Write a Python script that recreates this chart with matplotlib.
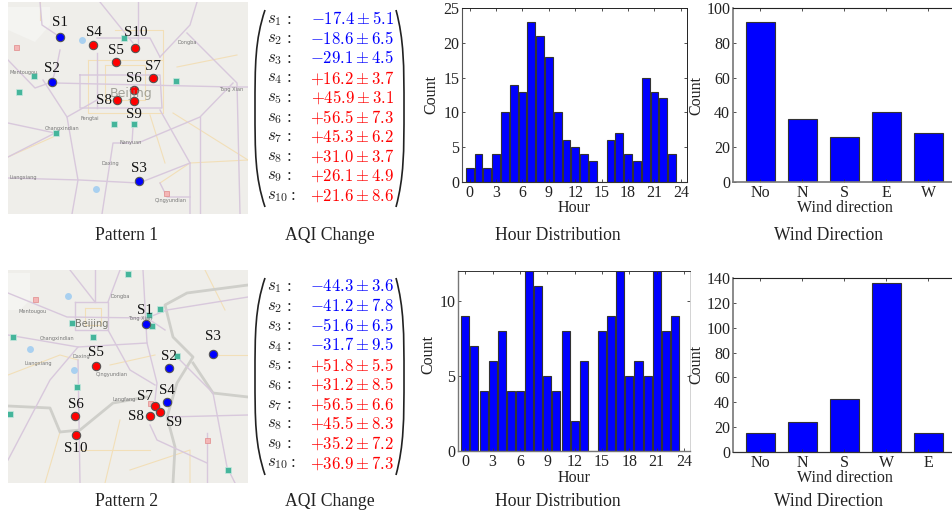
import matplotlib
matplotlib.use("Agg")
import matplotlib.pyplot as plt
from matplotlib.path import Path
from matplotlib.patches import PathPatch, Polygon

plt.rcParams["font.family"] = "Liberation Serif"
plt.rcParams["mathtext.fontset"] = "cm"

W, H = 952, 514

station_names = ["S1", "S2", "S3", "S4", "S5", "S6", "S7", "S8", "S9", "S10"]

# pattern 1
p1_colors = ["b", "b", "b", "r", "r", "r", "r", "r", "r", "r"]
p1_x = [60, 52, 139, 93, 116, 134, 153, 117, 134, 135]
p1_y = [37, 82, 181, 45, 62, 90, 78, 100, 101, 48]
p1_label_x = [60, 52, 139, 94, 116, 134, 153, 104, 134, 136]
p1_label_y = [23, 69, 168, 32, 51, 79, 67, 100, 114, 33]
p1_mean = [-17.4, -18.6, -29.1, 16.2, 45.9, 56.5, 45.3, 31.0, 26.1, 21.6]
p1_err = [5.1, 6.5, 4.5, 3.7, 3.1, 7.3, 6.2, 3.7, 4.9, 8.6]
p1_hours = [2, 4, 2, 4, 10, 14, 13, 23, 21, 18, 10, 6, 5, 4, 3, 0, 6, 7, 4, 3, 15, 13, 12, 4]
p1_wind_labels = ["No", "N", "S", "E", "W"]
p1_wind = [92, 36, 26, 40, 28]

# pattern 2
p2_colors = ["b", "b", "b", "b", "r", "r", "r", "r", "r", "r"]
p2_x = [146, 169, 213, 167, 96, 75, 155, 150, 160, 76]
p2_y = [324, 368, 354, 402, 366, 416, 406, 416, 412, 435]
p2_label_x = [145, 169, 213, 167, 96, 76, 145, 136, 174, 76]
p2_label_y = [311, 356, 337, 390, 352, 404, 396, 416, 422, 448]
p2_mean = [-44.3, -41.2, -51.6, -31.7, 51.8, 31.2, 56.5, 45.5, 35.2, 36.9]
p2_err = [3.6, 7.8, 6.5, 9.5, 5.5, 8.5, 6.6, 8.3, 7.2, 7.3]
p2_hours = [9, 7, 4, 6, 8, 4, 4, 12, 11, 5, 4, 8, 2, 6, 0, 8, 9, 12, 5, 6, 5, 12, 8, 9]
p2_wind_labels = ["No", "N", "S", "W", "E"]
p2_wind = [15, 24, 43, 136, 15]

# map background details, in image pixels
p1_purple = [
    [(55, 83), (233, 87), (248, 87)], [(80, 75), (160, 75), (162, 108), (80, 108), (80, 75)],
    [(100, 2), (133, 43)], [(138, 2), (138, 43)], [(160, 57), (190, 25), (197, 2)],
    [(187, 33), (237, 83), (240, 214)], [(133, 127), (132, 143), (113, 143), (102, 214)],
    [(8, 123), (55, 133), (8, 157)], [(8, 178), (80, 180), (139, 183), (190, 163)],
    [(67, 117), (78, 180), (72, 214)], [(43, 80), (67, 117), (97, 100)],
    [(160, 110), (190, 163), (190, 214)], [(138, 143), (200, 117), (233, 83)],
    [(160, 183), (167, 197), (190, 197)], [(60, 50), (57, 65), (52, 82)],
    [(97, 38), (150, 38), (160, 57)], [(97, 53), (97, 108)], [(8, 60), (35, 88), (52, 82)],
    [(40, 2), (42, 25), (60, 37)], [(200, 117), (200, 214)],
]
p1_orange = [
    [(88, 60), (163, 60), (163, 113), (88, 113), (88, 60)], [(173, 113), (248, 160)],
    [(177, 67), (237, 55)], [(8, 157), (53, 137)], [(190, 163), (248, 160)],
    [(105, 65), (145, 65), (145, 100), (105, 100), (105, 65)], [(115, 30), (163, 30), (163, 60)],
    [(160, 183), (190, 163)], [(40, 2), (40, 20)], [(150, 115), (165, 163)],
]
p1_green = [(34, 76), (19, 92), (56, 133), (114, 124), (134, 124), (176, 81), (124, 38)]
p1_pink = [(16, 47), (166, 193)]
p1_lakes = [(82, 40), (96, 189)]
p1_place = [("Tong Xian", 231, 89), ("Changxindian", 62, 128), ("Liangxiang", 23, 177),
            ("Daxing", 110, 163), ("Nanyuan", 131, 142), ("Qingyundian", 171, 200),
            ("Dongba", 187, 42), ("Mentougou", 24, 72), ("Fengtai", 90, 118)]
p1_hills = [(8, 7), (50, 7), (50, 25), (35, 42), (8, 30)]

p2_grey = [
    [(248, 285), (187, 293), (165, 305), (173, 337), (193, 357), (177, 383), (167, 417), (175, 447), (173, 483)],
    [(193, 363), (213, 393), (248, 397)],
    [(8, 406), (50, 408), (60, 432), (80, 430), (113, 403), (147, 397)],
]
p2_purple = [
    [(8, 293), (67, 317), (147, 318), (167, 310), (248, 297)], [(8, 335), (78, 347), (147, 343)],
    [(75, 302), (108, 302), (108, 330), (75, 330), (75, 302)], [(95, 270), (95, 302)],
    [(143, 270), (147, 343), (157, 383), (155, 400)], [(78, 360), (80, 483)],
    [(207, 433), (207, 483)], [(167, 417), (248, 415)],
    [(180, 360), (213, 393), (227, 467), (235, 483)], [(150, 425), (157, 440), (207, 463)],
    [(70, 270), (95, 302)], [(120, 270), (108, 302)], [(8, 460), (50, 380), (78, 347)],
    [(108, 330), (130, 370), (155, 385)], [(165, 330), (150, 320)],
]
p2_orange = [
    [(85, 308), (101, 308), (101, 325), (85, 325), (85, 308)], [(8, 375), (60, 355), (78, 360)],
    [(130, 470), (190, 450), (190, 483)], [(120, 420), (105, 483)],
    [(213, 355), (248, 355)], [(60, 432), (45, 483)], [(205, 270), (225, 310)],
    [(110, 365), (155, 355)], [(80, 450), (150, 450)],
]
p2_green = [(128, 274), (160, 309), (149, 315), (152, 326), (72, 323), (93, 337), (13, 337),
            (177, 356), (77, 387), (10, 414), (228, 470)]
p2_pink = [(35, 299), (150, 403), (207, 440)]
p2_lakes = [(68, 296), (30, 349), (74, 370)]
p2_place = [("Mentougou", 33, 312), ("Changxindian", 57, 339), ("Daxing", 81, 357),
            ("Liangxiang", 38, 364), ("Qingyundian", 112, 375), ("Dongba", 120, 297),
            ("Tong Xian", 140, 319), ("Langfang", 124, 400)]
p2_hills = [(8, 273), (30, 273), (30, 300), (20, 310), (8, 310)]


def px_rect(left, top, right, bottom):
    return [left / W, 1 - bottom / H, (right - left) / W, (bottom - top) / H]


def plot_map(fig, rect, hills, purple, orange, green, pink, lakes, places, xs, ys, colors, grey=()):
    left, top, right, bottom = rect
    ax = fig.add_axes(px_rect(left, top, right, bottom))
    ax.set_xlim(left, right)
    ax.set_ylim(bottom, top)
    ax.axis("off")
    ax.add_patch(plt.Rectangle((left, top), right - left, bottom - top, fc="#efeeea", ec="none", zorder=0))
    ax.add_patch(Polygon(hills, fc="#f4f4f1", ec="none", zorder=1))
    for line in orange:
        ax.plot(*zip(*line), color="#f2dfb8", lw=0.8, zorder=2)
    for line in grey:
        ax.plot(*zip(*line), color="#cfcfca", lw=2.0, zorder=2)
    for line in purple:
        ax.plot(*zip(*line), color="#d8c8dc", lw=1.0, zorder=3)
    ax.plot(*zip(*lakes), ls="none", marker="o", ms=5, color="#a9d0f0", mec="none", zorder=3)
    ax.plot(*zip(*green), ls="none", marker="s", ms=4.2, color="#45b59b", mec="#c8e8df", mew=0.5, zorder=4)
    ax.plot(*zip(*pink), ls="none", marker="s", ms=3.6, color="#f4b6b6", mec="#e08a8a", mew=0.5, zorder=4)
    for name, x, y in places:
        ax.text(x, y, name, fontsize=3.6, family="DejaVu Sans", color="#777777", ha="center", va="center", zorder=4)
    for i in range(len(xs)):
        ax.plot(xs[i], ys[i], marker="o", ms=6, mfc={"b": "#0000ff", "r": "#ff0000"}[colors[i]],
                mec="#555555", mew=0.8, zorder=6)
    return ax


def plot_matrix(ov, top, bottom, first_y, means, errs):
    step = 19.6
    for i in range(len(means)):
        y = first_y + i * step
        color = "#0000ff" if means[i] < 0 else "#ff0000"
        ov.text(267, y, "$s_{%d}$" % (i + 1), fontsize=12.2, color="#222222", ha="left", va="center")
        ov.text(293 if i == 9 else 289, y, ":", fontsize=12, color="#222222", ha="center", va="center")
        ov.text(394, y, "$%+.1f \\pm %.1f$" % (means[i], errs[i]), fontsize=12, color=color,
                ha="right", va="center")
    # big brackets
    for x0, x1 in [(265, 255), (396, 404)]:
        verts = [(x0, top), (x1, top + 30), (x1, top + 55), (x1, (top + bottom) / 2),
                 (x1, bottom - 55), (x1, bottom - 30), (x0, bottom)]
        codes = [Path.MOVETO, Path.CURVE4, Path.CURVE4, Path.CURVE4, Path.CURVE4, Path.CURVE4, Path.CURVE4]
        ov.add_patch(PathPatch(Path(verts, codes), fc="none", ec="#222222", lw=1.2))


def style_axes(ax, sides, right_ticks=True):
    for side, (color, lw) in sides.items():
        ax.spines[side].set_color(color)
        ax.spines[side].set_linewidth(lw)
    ax.tick_params(direction="in", length=2, width=0.6, top=True, right=right_ticks, labelsize=11.5,
                   pad=2, color="#333333", labelcolor="#222222")


def plot_hours(fig, rect, counts, xlim, ylim, yticks, count_x, count_y, hour_y):
    ax = fig.add_axes(px_rect(*rect))
    ax.bar(range(24), counts, width=0.88, color="#0000ff", edgecolor="#333333", linewidth=0.8)
    ax.set_xlim(*xlim)
    ax.set_ylim(*ylim)
    ax.set_xticks(range(0, 25, 3))
    ax.set_yticks(yticks)
    ax.set_xlabel("Hour", fontsize=11.5, color="#222222")
    ax.set_ylabel("Count", fontsize=11.5, color="#222222")
    ax.xaxis.set_label_coords(0.5, (rect[3] - hour_y) / (rect[3] - rect[1]))
    ax.yaxis.set_label_coords((count_x - rect[0]) / (rect[2] - rect[0]), (rect[3] - count_y) / (rect[3] - rect[1]))
    return ax


def plot_wind(fig, rect, labels, counts, ylim, yticks, count_y, label_y):
    ax = fig.add_axes(px_rect(*rect))
    ax.bar(range(5), counts, width=0.68, color="#0000ff", edgecolor="#333333", linewidth=0.8)
    ax.set_xlim(-0.65, 4.56)
    ax.set_ylim(*ylim)
    ax.set_xticks(range(5))
    ax.set_xticklabels(labels)
    ax.set_yticks(yticks)
    ax.set_xlabel("Wind direction", fontsize=11.5, color="#222222")
    ax.set_ylabel("Count", fontsize=11.5, color="#222222")
    ax.xaxis.set_label_coords(0.51, (rect[3] - label_y) / (rect[3] - rect[1]))
    ax.yaxis.set_label_coords((704 - rect[0]) / (rect[2] - rect[0]), (rect[3] - count_y) / (rect[3] - rect[1]))
    return ax


fig = plt.figure(figsize=(W / 100, H / 100), dpi=100, facecolor="white")

plot_map(fig, (8, 2, 248, 214), p1_hills, p1_purple, p1_orange, p1_green, p1_pink, p1_lakes, p1_place,
         p1_x, p1_y, p1_colors)
plot_map(fig, (8, 270, 248, 483), p2_hills, p2_purple, p2_orange, p2_green, p2_pink, p2_lakes, p2_place,
         p2_x, p2_y, p2_colors, grey=p2_grey)

ax = plot_hours(fig, (462, 8, 687, 182), p1_hours, (-0.87, 24.7), (0, 25), range(0, 26, 5), 439, 94, 200)
style_axes(ax, {"top": ("#222222", 0.7), "right": ("#222222", 0.7), "left": ("#555555", 0.8), "bottom": ("#333333", 0.8)})
ax = plot_hours(fig, (458, 271, 690, 451), p2_hours, (-0.8, 24.65), (0, 12), [0, 5, 10], 436, 355, 470)
style_axes(ax, {"top": ("#333333", 0.7), "right": ("#cccccc", 0.6), "left": ("#777777", 1.0), "bottom": ("#777777", 1.0)})

ax = plot_wind(fig, (733, 8, 952, 182), p1_wind_labels, p1_wind, (0, 100), range(0, 101, 20), 95, 200)
style_axes(ax, {"top": ("#222222", 0.8), "right": ("#222222", 0.6), "left": ("#777777", 1.2), "bottom": ("#777777", 1.2)},
           right_ticks=False)
ax = plot_wind(fig, (733, 278, 952, 452), p2_wind_labels, p2_wind, (0, 140), range(0, 141, 20), 365, 470)
style_axes(ax, {"top": ("#222222", 0.8), "right": ("#222222", 0.6), "left": ("#777777", 1.2), "bottom": ("#333333", 0.9)},
           right_ticks=False)

# overlay in image pixels for the text that floats over everything
ov = fig.add_axes([0, 0, 1, 1], zorder=10)
ov.set_xlim(0, W)
ov.set_ylim(H, 0)
ov.axis("off")
ov.patch.set_alpha(0)

plot_matrix(ov, 10, 207, 19.5, p1_mean, p1_err)
plot_matrix(ov, 278, 475, 287, p2_mean, p2_err)

for lx, ly in [(p1_label_x, p1_label_y), (p2_label_x, p2_label_y)]:
    for i in range(len(station_names)):
        ov.text(lx[i], ly[i], station_names[i], fontsize=10.8, color="#111111", ha="center", va="center")

ov.text(131, 94, "Beijing", fontsize=9, family="DejaVu Sans", color="#8a8a80", alpha=0.75, ha="center", va="center")
ov.text(92, 324, "Beijing", fontsize=7, family="DejaVu Sans", color="#77776f", ha="center", va="center")

captions = ["AQI Change", "Hour Distribution", "Wind Direction"]
caption_x = [330, 558, 829]
for y, first in [(235, "Pattern 1"), (501, "Pattern 2")]:
    ov.text(127, y, first, fontsize=12.7, color="#222222", ha="center", va="center")
    for i in range(len(captions)):
        ov.text(caption_x[i], y, captions[i], fontsize=12.7, color="#222222", ha="center", va="center")

fig.savefig("out.png", dpi=100)
